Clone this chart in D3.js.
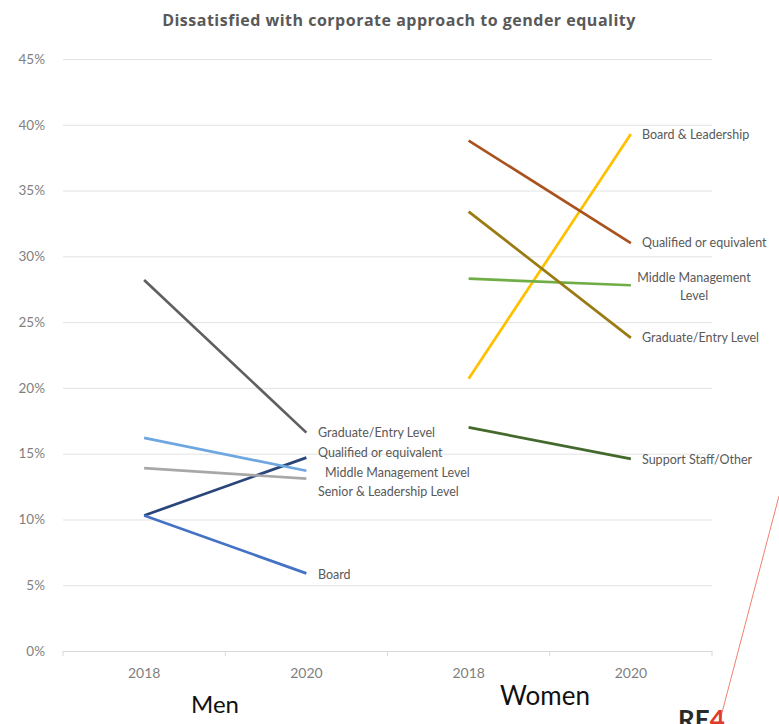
<!DOCTYPE html>
<html>
<head>
<meta charset="utf-8">
<script src="https://cdn.jsdelivr.net/npm/d3@7"></script>
<style>
  body { margin: 0; background: #fff; }
  text { font-family: Lato, "Open Sans", sans-serif; }
</style>
</head>
<body>
<script>
var width = 779, height = 724;

// x categories: two groups of years
var categories = ["Men 2018", "Men 2020", "Women 2018", "Women 2020"];
var yearLabels = ["2018", "2020", "2018", "2020"];
var groups = ["Men", "Women"];
var yTicks = [0, 0.05, 0.10, 0.15, 0.20, 0.25, 0.30, 0.35, 0.40, 0.45];

// men series (2018, 2020)
var menNames = ["Graduate/Entry Level", "Qualified or equivalent", "Middle Management Level", "Senior & Leadership Level", "Board"];
var menValues = [[0.282, 0.166], [0.103, 0.147], [0.162, 0.137], [0.139, 0.131], [0.103, 0.059]];
var menColors = ["#5f5f5f", "#29457a", "#6ea6e0", "#a8a8a8", "#4472c4"];

// women series (2018, 2020)
var womenNames = ["Board & Leadership", "Qualified or equivalent", "Middle Management Level", "Graduate/Entry Level", "Support Staff/Other"];
var womenValues = [[0.207, 0.393], [0.388, 0.310], [0.283, 0.278], [0.334, 0.238], [0.170, 0.146]];
var womenColors = ["#ffc000", "#a9521f", "#70ad47", "#9a7a12", "#44692c"];

var svg = d3.select("body").append("svg")
    .attr("width", width)
    .attr("height", height);

var x = d3.scaleBand().domain(categories).range([63, 712]);
var y = d3.scaleLinear().domain([0, 0.45]).range([651, 59]);

svg.append("text")
    .attr("x", 399).attr("y", 26)
    .attr("text-anchor", "middle")
    .attr("font-size", 16)
    .attr("font-weight", "bold")
    .attr("letter-spacing", 0.5)
    .attr("fill", "#595959")
    .style("font-family", "'Open Sans', sans-serif")
    .text("Dissatisfied with corporate approach to gender equality");

// gridlines + y labels
var yAxis = svg.append("g")
    .attr("transform", "translate(63,0)")
    .call(d3.axisLeft(y).tickValues(yTicks).tickFormat(d3.format(".0%")).tickSize(-649).tickPadding(18));
yAxis.select(".domain").remove();
yAxis.selectAll("line").attr("stroke", "#e2e2e2");
yAxis.selectAll("text").attr("fill", "#7f7f7f").attr("font-size", 13.5).style("font-family", "Lato, sans-serif");

// x axis
var xAxis = svg.append("g")
    .attr("transform", "translate(0,651)")
    .call(d3.axisBottom(x).tickFormat(function(d, i) { return yearLabels[i]; }).tickSize(0).tickPadding(17));
xAxis.select(".domain").attr("stroke", "#d9d9d9");
xAxis.selectAll("text").attr("fill", "#7f7f7f").attr("font-size", 14).style("font-family", "Lato, sans-serif");
var bounds = [63].concat(categories.map(function(c) { return x(c) + x.bandwidth(); }));
xAxis.selectAll(".sep").data(bounds).enter().append("line")
    .attr("x1", function(d) { return d; }).attr("x2", function(d) { return d; })
    .attr("y1", 0).attr("y2", 5)
    .attr("stroke", "#d9d9d9");

// group labels
svg.selectAll(".grp").data(groups).enter().append("text")
    .attr("x", function(d, i) { return i === 0 ? 215 : 545; })
    .attr("y", function(d, i) { return i === 0 ? 713 : 705; })
    .attr("text-anchor", "middle")
    .attr("font-size", function(d, i) { return i === 0 ? 24 : 26; })
    .attr("fill", "#111")
    .text(function(d) { return d; });

function drawSeries(values, colors, c0, c1) {
  var line = d3.line()
      .x(function(d, i) { return x(i === 0 ? c0 : c1) + x.bandwidth() / 2; })
      .y(function(d) { return y(d); });
  svg.append("g").selectAll("path").data(values).enter().append("path")
      .attr("d", line)
      .attr("fill", "none")
      .attr("stroke", function(d, i) { return colors[i]; })
      .attr("stroke-width", 2.7);
}
drawSeries(menValues, menColors, categories[0], categories[1]);
drawSeries(womenValues, womenColors, categories[2], categories[3]);

// labels
var menLabelX = [318, 318, 325, 318, 318];
var menLabelY = [437, 457, 477, 496, 579];
svg.append("g").selectAll("text").data(menNames).enter().append("text")
    .attr("x", function(d, i) { return menLabelX[i]; })
    .attr("y", function(d, i) { return menLabelY[i]; })
    .attr("font-size", 12.5)
    .attr("fill", "#595959")
    .text(function(d) { return d; });

var wl = svg.append("g");
wl.append("text").attr("x", 642).attr("y", 139).text(womenNames[0]);
wl.append("text").attr("x", 642).attr("y", 247).text(womenNames[1]);
wl.append("text").attr("x", 694).attr("y", 282).attr("text-anchor", "middle").text("Middle Management");
wl.append("text").attr("x", 694).attr("y", 300).attr("text-anchor", "middle").text("Level");
wl.append("text").attr("x", 642).attr("y", 342).text(womenNames[3]);
wl.append("text").attr("x", 642).attr("y", 464).text(womenNames[4]);
wl.selectAll("text").attr("font-size", 12.5).attr("fill", "#595959");

// logo fragment
svg.append("line")
    .attr("x1", 779).attr("y1", 496).attr("x2", 719).attr("y2", 724)
    .attr("stroke", "#f08070").attr("stroke-width", 1);
var logo = svg.append("text").attr("x", 678).attr("y", 729)
    .attr("font-size", 26).attr("font-weight", "bold");
logo.append("tspan").attr("fill", "#2a2a2a").text("RE");
logo.append("tspan").attr("fill", "#e03a2f").text("4");
</script>
</body>
</html>
